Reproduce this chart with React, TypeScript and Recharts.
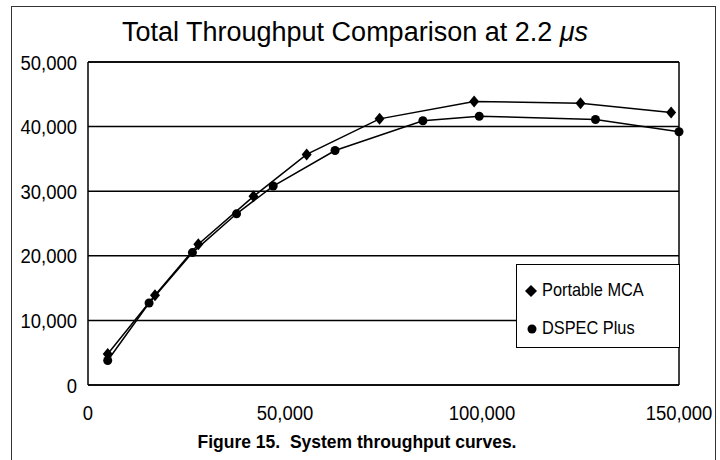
import React from 'react';
import {
  ScatterChart,
  Scatter,
  XAxis,
  YAxis,
  CartesianGrid,
  ReferenceLine,
} from 'recharts';

// Portable MCA (diamonds)
const mcaInput = [5000, 17000, 28000, 42000, 55500, 74000, 98000, 125000, 148000];
const mcaThroughput = [4800, 13900, 21800, 29200, 35700, 41200, 43900, 43600, 42200];

// DSPEC Plus (circles)
const dspecInput = [5000, 15500, 26500, 37700, 47000, 62700, 85000, 99300, 128800, 150000];
const dspecThroughput = [3800, 12700, 20500, 26500, 30800, 36300, 40900, 41600, 41100, 39200];

const xTicks = [0, 50000, 100000, 150000];
const yTicks = [0, 10000, 20000, 30000, 40000, 50000];

const seriesNames = ['Portable MCA', 'DSPEC Plus'];

const FONT = '"Liberation Sans", Arial, Helvetica, sans-serif';

const mcaData = mcaInput.map((x, i) => ({ x, y: mcaThroughput[i] }));
const dspecData = dspecInput.map((x, i) => ({ x, y: dspecThroughput[i] }));

const fmt = (v: number) => v.toLocaleString('en-US');

const Diamond = ({ cx, cy }: any) => (
  <path d={`M${cx},${cy - 6} L${cx + 5},${cy} L${cx},${cy + 6} L${cx - 5},${cy} Z`} fill="#000" />
);

const Dot = ({ cx, cy }: any) => <circle cx={cx} cy={cy} r={4.5} fill="#000" />;

// tick labels are a narrow, tall sans in the original
const XTick = ({ x, y, payload }: any) => (
  <text
    transform={`translate(${x},${y + 35}) scale(0.88,1)`}
    textAnchor="middle"
    fontSize={21}
    fontFamily={FONT}
    fill="#000"
  >
    {fmt(payload.value)}
  </text>
);

const YTick = ({ x, y, payload }: any) => (
  <text
    transform={`translate(${x - 11},${y + 7.5}) scale(0.88,1)`}
    textAnchor="end"
    fontSize={21}
    fontFamily={FONT}
    fill="#000"
  >
    {fmt(payload.value)}
  </text>
);

// legend box sits over the plot, lower right
const LegendBox = () => (
  <div
    style={{
      position: 'absolute',
      left: 516,
      top: 264,
      width: 164,
      height: 84,
      boxSizing: 'border-box',
      border: '1.5px solid #000',
      background: '#fff',
      fontFamily: FONT,
      fontSize: 19,
      color: '#000',
    }}
  >
    <svg width={20} height={83} style={{ position: 'absolute', left: 6, top: 0 }}>
      <path d="M8,20 L14,26 L8,32 L2,26 Z" fill="#000" />
      <circle cx={9} cy={64} r={4.5} fill="#000" />
    </svg>
    <div style={{ position: 'absolute', left: 25, top: 14, whiteSpace: 'nowrap', transform: 'scaleX(0.86)', transformOrigin: 'left' }}>
      {seriesNames[0]}
    </div>
    <div style={{ position: 'absolute', left: 25, top: 52, whiteSpace: 'nowrap', transform: 'scaleX(0.86)', transformOrigin: 'left' }}>
      {seriesNames[1]}
    </div>
  </div>
);

export default function App() {
  return (
    <div style={{ position: 'absolute', left: 0, top: 0, width: 720, height: 460, background: '#fff', overflow: 'hidden' }}>
      {/* figure frame, open at the bottom */}
      <div
        style={{
          position: 'absolute',
          left: 11,
          top: 6,
          width: 705,
          height: 470,
          border: '1.5px solid #333',
          boxSizing: 'border-box',
        }}
      />
      <div
        style={{
          position: 'absolute',
          left: 0,
          top: 16,
          width: 710,
          textAlign: 'center',
          fontFamily: FONT,
          fontSize: 27,
          lineHeight: '32px',
          color: '#000',
        }}
      >
        Total Throughput Comparison at 2.2 <i>μs</i>
      </div>
      <div style={{ position: 'absolute', left: 0, top: 0 }}>
        <ScatterChart width={720} height={460} margin={{ top: 62, right: 41, bottom: 0, left: 0 }}>
          <CartesianGrid horizontal vertical={false} stroke="#000" strokeWidth={1.5} />
          <XAxis
            type="number"
            dataKey="x"
            domain={[0, 150000]}
            ticks={xTicks}
            height={75}
            tickSize={0}
            tickMargin={0}
            tickLine={false}
            axisLine={{ stroke: '#000', strokeWidth: 1.5 }}
            tick={<XTick />}
            interval={0}
          />
          <YAxis
            type="number"
            dataKey="y"
            domain={[0, 50000]}
            ticks={yTicks}
            width={88}
            tickSize={0}
            tickMargin={0}
            tickLine={false}
            axisLine={{ stroke: '#000', strokeWidth: 1.5 }}
            tick={<YTick />}
            interval={0}
          />
          <ReferenceLine x={150000} stroke="#000" strokeWidth={1.5} />
          <ReferenceLine y={50000} stroke="#000" strokeWidth={1.5} />
          <Scatter
            name={seriesNames[0]}
            data={mcaData}
            line={{ stroke: '#000', strokeWidth: 1.5 }}
            shape={<Diamond />}
            isAnimationActive={false}
          />
          <Scatter
            name={seriesNames[1]}
            data={dspecData}
            line={{ stroke: '#000', strokeWidth: 1.5 }}
            shape={<Dot />}
            isAnimationActive={false}
          />
        </ScatterChart>
      </div>
      <LegendBox />
      <div
        style={{
          position: 'absolute',
          left: 0,
          top: 432,
          width: 714,
          textAlign: 'center',
          fontFamily: FONT,
          fontSize: 17.5,
          fontWeight: 'bold',
          color: '#000',
          whiteSpace: 'pre',
        }}
      >
        {'Figure 15.  System throughput curves.'}
      </div>
    </div>
  );
}
